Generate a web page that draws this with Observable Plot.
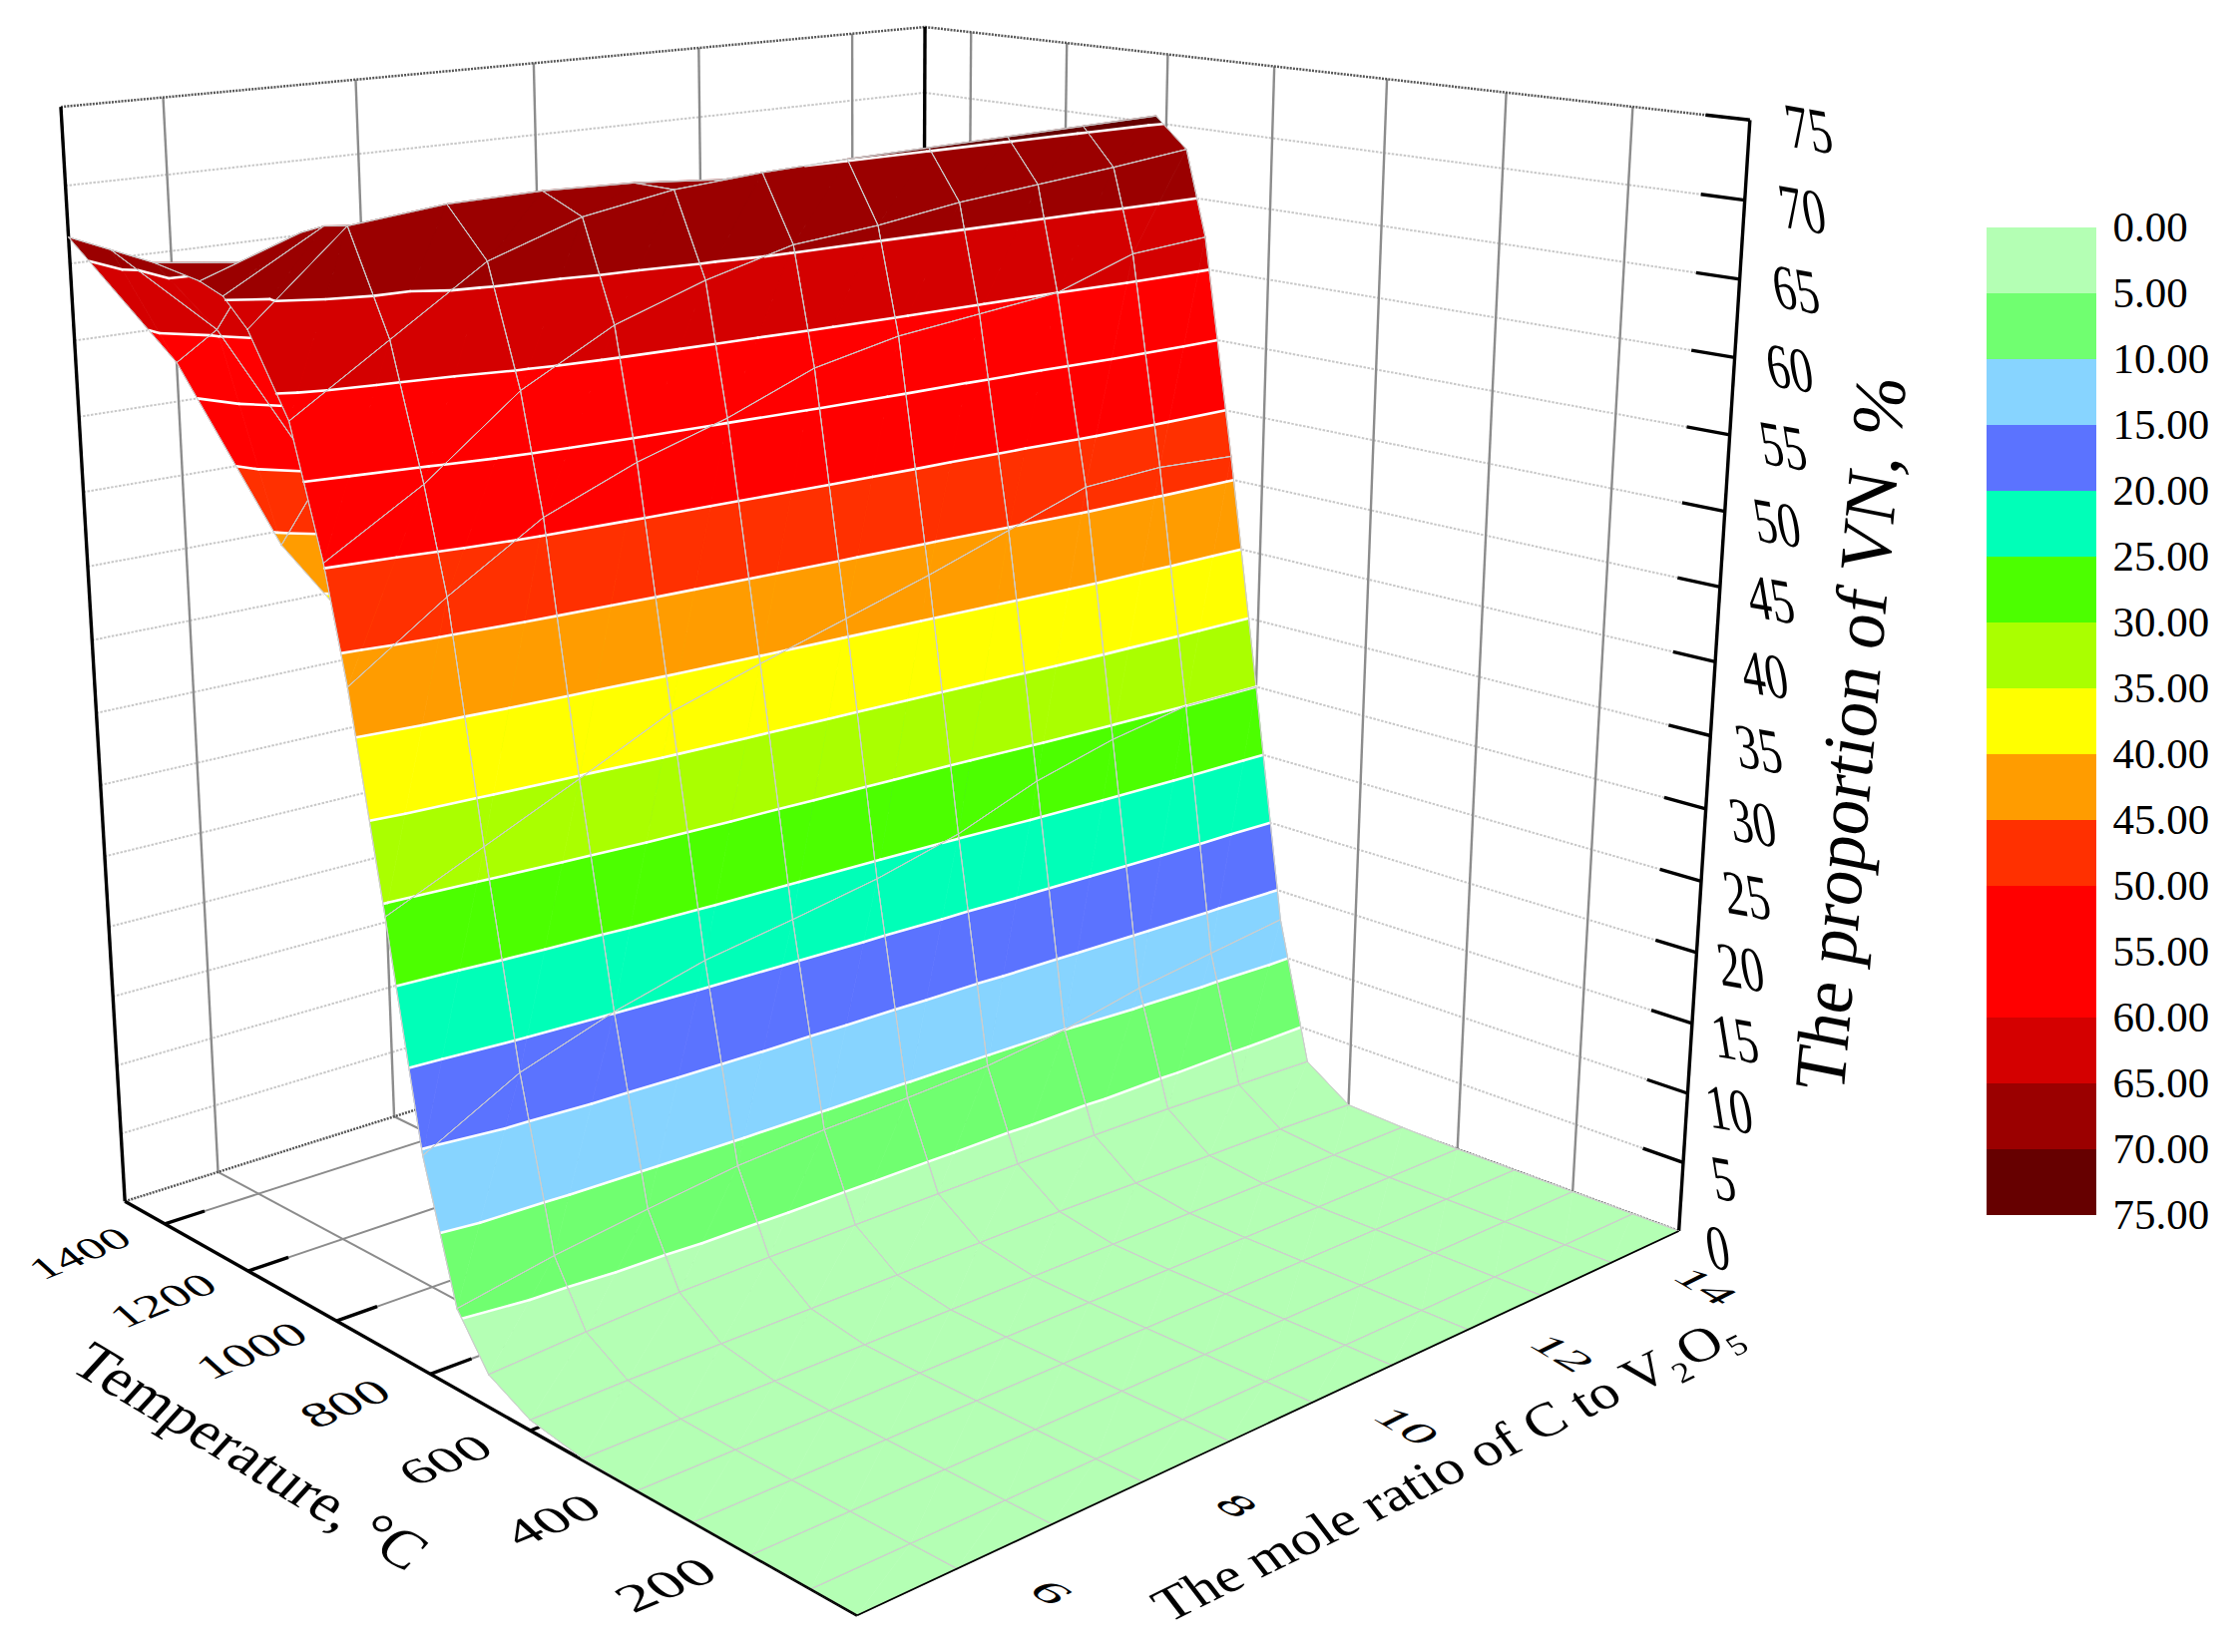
<!doctype html><html><head><meta charset="utf-8">
<script src="https://cdn.jsdelivr.net/npm/d3@7"></script>
<script src="https://cdn.jsdelivr.net/npm/@observablehq/plot@0.6"></script>
<style>body{margin:0;background:#fff}</style></head><body><div id="c"></div>
<script>
// ---- data ----
const temperatures=[25,100,200,300,400,500,600,680,740,800,860,920,960,1020,1100,1150,1200,1300,1400,1500];
const ratios=[5,6,7,8,9,10,11,12,13,14,15];
const vnPercent=[
[0,0,0,0,0,0,0,0,0,0,0],[0,0,0,0,0,0,0,0,0,0,0],[0,0,0,0,0,0,0,0,0,0,0],[0,0,0,0,0,0,0,0,0,0,0],[0,0,0,0,0,0,0,0,0,0,0],
[.1,.1,.1,.1,.1,.1,.1,.1,.1,.1,.1],
[.7,.8,.8,.8,.8,.8,.8,.7,.6,.5,.3],
[2.2,2.6,2.9,3,3,3,3,3,2.9,2.7,2.5],
[5.5,6.7,7.6,8.4,8.8,9,9.3,10,11.2,12,12.8],
[14.6,18,20.1,21.7,22.7,23.8,25.3,27.5,29,30,30],
[29.2,32,34.8,37.7,39.5,41.2,42.9,44.8,46.7,47,46.7],
[43,47.3,51.1,53.5,55.3,57.6,58.8,59.4,60,61.9,62.3],
[50.3,54,58.8,62,64,65.5,66,66.8,67.3,67.8,68.4],
[58.5,62.5,66.5,68.5,69.5,69.9,70.1,70.2,70.3,70.4,70.5],
[63.5,69,69.6,69.7,69.5,69,68,66.5,64.5,62,60],
[65.2,68.7,68,66,62,59,56,53,50,47,44],
[65.8,68,63.5,58,53,48,43,39,35,31,28],
[66.3,65.5,56.5,49.5,44,38,33,29,25,21,18],
[66.5,60.5,49.5,41,35,30,25,21,17,14,11],
[66.7,57.6,44,35,28,22,18,14,11,8,5]];
const bandLevels=d3.range(0,80,5);
const bandColors=["#b4ffb4","#70ff70","#87d4ff","#5b73ff","#00ffb8","#4cff00","#aaff00","#ffff00","#ff9c00","#ff3000","#ff0000","#ff0000","#d40000","#9b0000","#660000"];
const tempTicks=[200,400,600,800,1000,1200,1400];
const ratioTicks=[6,8,10,12,14];
const zTicks=d3.range(0,80,5);
const Tmin=25,Tmax=1500,Rmin=5,Rmax=15,Zmax=75;
// ---- camera fitted to the box seen in the picture: [T,R,z,px,py] ----
const calibration=[[1500,5,0,123,1204],[Tmin,5,0,857,1618],[Tmin,15,0,1683,1235],[1500,5,75,61,107],[1500,15,75,926,26],[Tmin,15,75,1754,120],
[1400,15,75,972,33],[1200,15,75,1068,42],[1000,15,75,1170,55],[800,15,75,1276,66],[600,15,75,1390,79],[400,15,75,1509,92],[200,15,75,1636,106],
[1500,6,75,163,97],[1500,8,75,355,79],[1500,10,75,535,62],[1500,12,75,700,48],[1500,14,75,855,33],
[1400,5,0,164,1227],[1200,5,0,250,1274],[1000,5,0,337,1324],[800,5,0,432,1377],
[Tmin,15,70,1749,200],[Tmin,15,50,1727,512],[Tmin,15,5,1686,1166],
[1500,6,0,218,1174],[1500,8,0,395,1118],[200,15,0,1576,1192],[400,15,0,1460,1151]];
const nrm=(T,R,z)=>[(T-Tmin)/(Tmax-Tmin),(R-Rmin)/(Rmax-Rmin),z/Zmax];
function solve(A,b){const n=b.length;A=A.map((r,i)=>[...r,b[i]]);for(let i=0;i<n;i++){let p=i;for(let k=i;k<n;k++)if(Math.abs(A[k][i])>Math.abs(A[p][i]))p=k;[A[i],A[p]]=[A[p],A[i]];for(let k=0;k<n;k++)if(k!=i){const f=A[k][i]/A[i][i];for(let j=i;j<=n;j++)A[k][j]-=f*A[i][j]}}return A.map((r,i)=>r[n]/r[i])}
const rows=[],rhs=[];for(const [T,R,z,x,y] of calibration){const [a,b,c]=nrm(T,R,z),X=x/1000,Y=y/1000;rows.push([a,b,c,1,0,0,0,0,-X*a,-X*b,-X*c]);rhs.push(X);rows.push([0,0,0,0,a,b,c,1,-Y*a,-Y*b,-Y*c]);rhs.push(Y)}
const cam=solve(d3.range(11).map(i=>d3.range(11).map(j=>d3.sum(rows,r=>r[i]*r[j]))),d3.range(11).map(i=>d3.sum(rows,(r,k)=>r[i]*rhs[k])));
function proj(T,R,z){const [a,b,c]=nrm(T,R,z),w=cam[8]*a+cam[9]*b+cam[10]*c+1;return [1000*(cam[0]*a+cam[1]*b+cam[2]*c+cam[3])/w,1000*(cam[4]*a+cam[5]*b+cam[6]*c+cam[7])/w]}
// ---- helpers for 3D line sets ----
const seg=(a,b)=>{const p=proj(...a),q=proj(...b);return {x1:p[0],y1:p[1],x2:q[0],y2:q[1]}};
const L=(segs,o)=>Plot.link(segs,{x1:"x1",y1:"y1",x2:"x2",y2:"y2",...o});
const wallV=[...tempTicks.map(T=>seg([T,15,0],[T,15,75])),...ratioTicks.map(R=>seg([1500,R,0],[1500,R,75]))];
const wallH=zTicks.slice(1,-1).flatMap(z=>[seg([1500,5,z],[1500,15,z]),seg([1500,15,z],[Tmin+65,15,z])]);
const floorGrid=[...tempTicks.map(T=>seg([T,5.4,0],[T,15,0])),...ratioTicks.map(R=>seg([1500,R,0],[Tmin,R,0]))];
const topEdges=[seg([1500,5,75],[1500,15,75]),seg([1500,15,75],[Tmin,15,75]),seg([1500,5,0],[1500,15,0]),seg([1500,15,0],[Tmin,15,0])];
const boldEdges=[seg([1500,5,0],[1500,5,75]),seg([Tmin,15,0],[Tmin,15,75]),seg([1500,15,0],[1500,15,75]),seg([1500,5,0],[Tmin,5,0])];
const ticks=[...tempTicks.map(T=>seg([T,5,0],[T,5.42,0])),...zTicks.slice(1).map(z=>seg([Tmin,15,z],[Tmin+65,15,z]))];
const frontEdges=[seg([620,5,0],[Tmin,5,0]),seg([Tmin,5,0],[Tmin,15,0])];
// ---- surface: painter's order, cells split in bands ----
const pts=[];let pid=0;
const push=(poly,f,s,w)=>{const id=pid++;for(const v of poly){const q=proj(v[0],v[1],v[2]);pts.push({id,x:q[0],y:q[1],f,s,w})}};
const lerp=(a,b,z)=>{const t=(z-a[2])/(b[2]-a[2]);return [a[0]+t*(b[0]-a[0]),a[1]+t*(b[1]-a[1]),z]};
function clip(poly,keep,z){const o=[];poly.forEach((a,i)=>{const b=poly[(i+1)%poly.length];if(keep(a[2]))o.push(a);if(keep(a[2])!==keep(b[2]))o.push(lerp(a,b,z))});return o}
function tri(t){const lo=d3.min(t,v=>v[2]),hi=d3.max(t,v=>v[2]);
 bandColors.forEach((c,k)=>{const a=bandLevels[k],b=bandLevels[k+1];if(hi<a||lo>b)return;let p=clip(t,v=>v>=a,a);if(p.length>2)p=clip(p,v=>v<=b,b);if(p.length>2)push(p,c,c,.7)})}
function contours(t){for(const l of bandLevels.slice(1,-1)){const c=[];t.forEach((a,i)=>{const b=t[(i+1)%3];if((a[2]<l)!==(b[2]<l))c.push(lerp(a,b,l))});if(c.length==2)push(c,"none","#ffffff",2.6)}}
for(let i=temperatures.length-2;i>=0;i--)for(let j=ratios.length-2;j>=0;j--){
 const A=[temperatures[i],ratios[j],vnPercent[i][j]],B=[temperatures[i+1],ratios[j],vnPercent[i+1][j]],C=[temperatures[i+1],ratios[j+1],vnPercent[i+1][j+1]],D=[temperatures[i],ratios[j+1],vnPercent[i][j+1]];
 const t1=[A,B,C],t2=[A,C,D];tri(t1);tri(t2);contours(t1);contours(t2);
 for(const e of [[A,B],[B,C],[C,D],[D,A]])push(e,"none","#cdcdcd",1);
}
// ---- text with the perspective warp of the picture ----
const warped=(data,o)=>Plot.text(data,{fontFamily:"Liberation Serif",fill:"#000",rotate:()=>0.001,...o,matrix:undefined,render(index,scales,values,dims,ctx,next){const g=next(index,scales,values,dims,ctx);d3.select(g).selectAll("text").each(function(_,n){const tr=this.getAttribute("transform").match(/translate\([^)]*\)/)[0];this.setAttribute("transform",tr+" matrix("+o.matrix(data[index[n]]).join(" ")+" 0 0)")});return g}});
const zLabel=z=>{const p=proj(Tmin,15,z),t=z/75;return [p[0]+39+20*t,p[1]+18-8*t]};
const tLabel=T=>{const p=proj(T,5,0);return [p[0]-85,p[1]+30]};
const rLabel=R=>{const p=proj(Tmin,R,0);return [p[0]+94,p[1]+24]};
const chart=Plot.plot({width:2238,height:1656,margin:0,x:{type:"identity"},y:{type:"identity"},color:{type:"identity"},axis:null,marks:[
 L(wallH,{stroke:"#c8c8c8",strokeWidth:2,strokeDasharray:"2.5 1.5"}),
 L(wallV,{stroke:"#8c8c8c",strokeWidth:2.4}),
 L(floorGrid,{stroke:"#8c8c8c",strokeWidth:2}),
 L(topEdges,{stroke:"#555",strokeWidth:2.5,strokeDasharray:"2 1.2"}),
 L(boldEdges,{stroke:"#000",strokeWidth:3.4}),
 L(ticks,{stroke:"#000",strokeWidth:3.4}),
 Plot.line(pts,{x:"x",y:"y",z:"id",fill:"f",stroke:"s",strokeWidth:"w",curve:"linear-closed"}),
 L(frontEdges,{stroke:"#000",strokeWidth:1.8}),
 Plot.rect(bandColors.map((c,k)=>({c,k})),{x1:()=>1991,x2:()=>2101,y1:d=>228+66*bandLevels[d.k]/5,y2:d=>228+66*bandLevels[d.k+1]/5,fill:"c"}),
 Plot.text(bandLevels,{x:()=>2117,y:z=>228+66*z/5,text:z=>z.toFixed(2),textAnchor:"start",fontFamily:"Liberation Serif",fontSize:43,fill:"#000"}),
 warped(zTicks,{x:z=>zLabel(z)[0],y:z=>zLabel(z)[1],text:z=>String(z),fontSize:47,matrix:()=>[.98,.17,.22,1.36]}),
 warped(tempTicks,{x:T=>tLabel(T)[0],y:T=>tLabel(T)[1],text:T=>String(T),fontSize:T=>50+(1400-T)/1200*14,matrix:()=>[.92,-.38,.55,.5]}),
 warped(ratioTicks,{x:R=>rLabel(R)[0],y:R=>rLabel(R)[1],text:R=>String(R),fontSize:R=>62-(R-6)*.6,matrix:()=>[.84,.5,-.6,.3]}),
 warped(["The proportion of VN, %"],{x:()=>1855,y:()=>735,text:d=>d,fontSize:71,matrix:()=>[.087,-.996,1.02,.2]}),
 warped(["Temperature, °C"],{x:()=>250,y:()=>1460,text:d=>d,fontSize:60,matrix:()=>[.857,.515,-.66,.72]}),
 warped(["The mole ratio of C to V₂O₅"],{x:()=>1450,y:()=>1472,text:d=>d,fontSize:57,matrix:()=>[.9,-.44,.55,.72]})
]});
document.getElementById("c").append(chart);
</script></body></html>
